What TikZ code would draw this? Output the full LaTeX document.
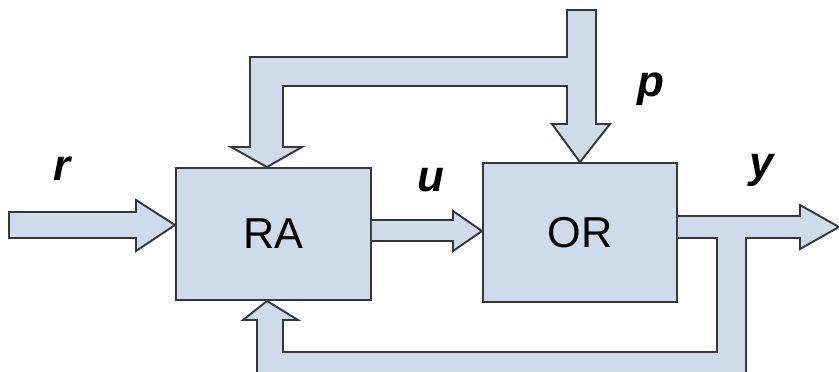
\documentclass[tikz,border=0pt]{standalone}
\usepackage{fontspec}
\setmainfont{Liberation Sans}
\usepackage{xcolor}
\usepackage{tikz}
\definecolor{boxblue}{RGB}{206,219,235}
\definecolor{edgegrey}{RGB}{55,55,55}

\begin{document}
\begin{tikzpicture}[
    blk/.style={draw=edgegrey, fill=boxblue, line width=0.55pt, inner sep=0pt,
        font=\fontsize{12.3}{14}\selectfont},
    band/.style={draw=edgegrey, fill=boxblue, line width=0.55pt, line join=miter},
    sig/.style={inner sep=0pt, font=\fontsize{12.5}{14}\selectfont\bfseries\itshape}
  ]
            \useasboundingbox (0,0) rectangle (8.39,3.71);
            \clip (0,0) rectangle (8.39,3.71);
            \node [blk, minimum width=1.95cm, minimum height=1.32cm] (RA) at (2.735,1.37) {RA};
            \node [blk, minimum width=1.94cm, minimum height=1.39cm] (OR) at (5.80,1.385) {OR};
            \node [sig] (r) at (0.62,2.02) {r};
            \node [sig] (u) at (4.31,1.91) {u};
            \node [sig] (p) at (6.51,2.82) {p};
            \node [sig] (y) at (7.62,2.01) {y};
            \draw [band] (0.09,1.59) -- (1.36,1.59) -- (1.36,1.71) -- (RA.west |- 0,1.46)
                -- (1.36,1.20) -- (1.36,1.33) -- (0.09,1.33) -- cycle;
            \draw [band] (RA.east |- 0,1.51) -- (4.53,1.51) -- (4.53,1.60) -- (OR.west |- 0,1.40)
                -- (4.53,1.20) -- (4.53,1.30) -- (RA.east |- 0,1.30);
            \draw [band] (5.67,3.61) -- (5.96,3.61) -- (5.96,2.47) -- (6.10,2.47) -- (OR.north)
                -- (5.52,2.47) -- (5.67,2.47) -- (5.67,2.85) -- (2.83,2.85) -- (2.83,2.24)
                -- (3.02,2.24) -- ([xshift=-0.065cm]RA.north) -- (2.31,2.24) -- (2.50,2.24)
                -- (2.50,3.14) -- (5.67,3.14) -- cycle;
            \draw [band] (OR.east |- 0,1.55) -- (8.00,1.55) -- (8.00,1.66) -- (8.39,1.44)
                -- (8.00,1.22) -- (8.00,1.33) -- (7.46,1.33) -- (7.46,-0.3) -- (2.57,-0.3)
                -- (2.57,0.51) -- (2.43,0.51) -- ([xshift=-0.065cm]RA.south) -- (2.98,0.51)
                -- (2.83,0.51) -- (2.83,0.19) -- (7.17,0.19) -- (7.17,1.33) -- (OR.east |- 0,1.33);
        \end{tikzpicture}
\end{document}
